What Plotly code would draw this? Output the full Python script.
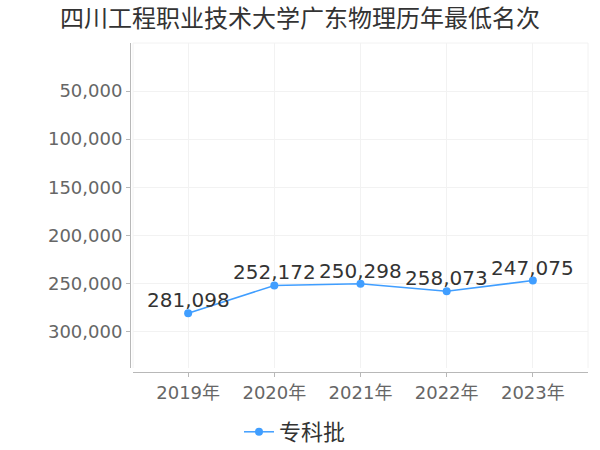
import plotly.graph_objects as go

title = "四川工程职业技术大学广东物理历年最低名次"
years = ["2019年", "2020年", "2021年", "2022年", "2023年"]
series_name = "专科批"
values = [281098, 252172, 250298, 258073, 247075]
y_tickvals = [50000, 100000, 150000, 200000, 250000, 300000]
y_ticktext = ["50,000", "100,000", "150,000", "200,000", "250,000", "300,000"]

FONT = "DejaVu Sans, Noto Sans CJK SC, sans-serif"
LINE = "#409EFF"
GRID = "#f2f2f2"
AXIS = "#b8b8b8"

W, H = 600, 450
ml, mr, mt, mb = 130, 12, 43, 78
pw, ph = W - ml - mr, H - mt - mb
xdom0 = 3 / pw
ydom0 = 4 / ph

xs = list(range(len(years)))

fig = go.Figure()
fig.add_trace(go.Scatter(
    x=xs, y=values, name=series_name,
    mode="lines+markers",
    line=dict(color=LINE, width=1.5),
    marker=dict(color=LINE, size=8),
    cliponaxis=False,
))

for xi, v in zip(xs, values):
    fig.add_annotation(x=xi, y=v, text=f"{v:,}", showarrow=False,
                       xanchor="center", yanchor="bottom", yshift=-1,
                       font=dict(size=20, color="#333333", family=FONT))

# plot frame (light grid border)
for (x0, y0, x1, y1) in [(xdom0, 1, 1, 1), (xdom0, ydom0, xdom0, 1), (1, ydom0, 1, 1)]:
    fig.add_shape(type="line", xref="paper", yref="paper", x0=x0, y0=y0, x1=x1, y1=y1,
                  line=dict(color=GRID, width=1), layer="below")

fig.update_layout(
    width=W, height=H,
    margin=dict(l=ml, r=mr, t=mt, b=mb, autoexpand=False),
    paper_bgcolor="white", plot_bgcolor="white",
    font=dict(family=FONT, color="#666666"),
    title=dict(text=title, x=0.5, xanchor="center", y=1 - 19 / H, yanchor="middle",
               font=dict(size=24, color="#333333", family=FONT)),
    showlegend=True,
    legend=dict(orientation="h", x=(295 - ml) / pw, xanchor="center",
                y=-(432 - (mt + ph)) / ph, yanchor="middle",
                font=dict(size=22, color="#333333", family=FONT)),
    xaxis=dict(
        domain=[xdom0, 1], anchor="free", position=0,
        range=[-0.64, len(years) - 1 + 0.64],
        tickvals=xs, ticktext=years,
        tickfont=dict(size=18, color="#666666", family=FONT),
        showgrid=True, gridcolor=GRID, gridwidth=1,
        showline=True, linecolor=AXIS, linewidth=1,
        ticks="outside", ticklen=4, tickcolor=AXIS,
        zeroline=False, automargin=False,
    ),
    yaxis=dict(
        domain=[ydom0, 1], anchor="free", position=0,
        range=[338000, 0],
        tickvals=y_tickvals, ticktext=y_ticktext,
        tickfont=dict(size=18, color="#666666", family=FONT),
        showgrid=True, gridcolor=GRID, gridwidth=1,
        showline=True, linecolor=AXIS, linewidth=1,
        ticks="outside", ticklen=4, tickcolor=AXIS,
        zeroline=False, automargin=False,
    ),
)

fig.write_html("out.html",
               config={"displayModeBar": False},
               post_script="document.body.style.margin='0';document.body.style.padding='0';")
